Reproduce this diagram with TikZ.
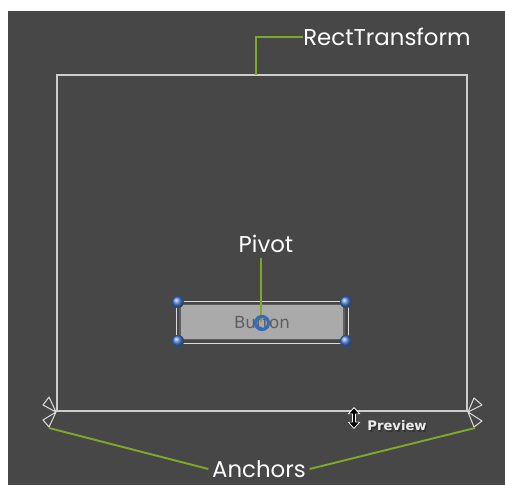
\documentclass[tikz,border=0pt]{standalone}
\usepackage{fontspec}
\usetikzlibrary{arrows.meta}
\newfontfamily\labelfont{Poppins}
\newfontfamily\uifont{DejaVu Sans}
\definecolor{bgdark}{RGB}{71,71,71}
\definecolor{rectline}{RGB}{205,205,205}
\definecolor{callout}{RGB}{128,168,40}
\definecolor{btnfill}{RGB}{170,170,170}
\definecolor{btnedge}{RGB}{95,95,95}
\definecolor{btntext}{RGB}{95,95,95}
\definecolor{handle}{RGB}{80,135,215}
\definecolor{handleedge}{RGB}{40,75,135}
\definecolor{pivring}{RGB}{55,105,190}
\begin{document}
\begin{tikzpicture}[x=0.02cm,y=-0.02cm,
  lbl/.style={text=white,font=\labelfont\fontsize{13}{13}\selectfont,inner sep=0pt},
  green line/.style={draw=callout,line width=1.1pt},
  dot/.style={circle,inner sep=0pt,minimum size=6.5pt,ball color=handle,draw=handleedge,line width=0.4pt},
  anchortri/.style={draw=rectline!80,line width=0.6pt,line join=round}]
\useasboundingbox (0,0) rectangle (505,485);
\fill[white] (0,0) rectangle (505,485);
\fill[bgdark] (8,11) rectangle (505,485);
% main rect
\draw[rectline,line width=0.9pt] (57,75) rectangle (467,411);
\coordinate (rtTop) at (256,75);
\coordinate (rtBend) at (256,37);
\node[lbl,anchor=west] (rt) at (303,37) {RectTransform};
\draw[green line] (rtTop) -- (rtBend) -- (rt.west);
% button
\draw[rectline!70,line width=0.5pt] (176,301) rectangle (348,343);
\node[draw=btnedge,fill=btnfill,line width=1pt,inner sep=0pt,
  minimum width=93pt,minimum height=20pt] (btn) at (262,322) {};
\node[text=btntext,font=\uifont\fontsize{9.5}{9.5}\selectfont] (btntxt) at (262,323) {Button};
\node[lbl,anchor=south] (pivot) at (266,253) {Pivot};
\coordinate (pivTop) at (261,258);
\coordinate (pivot point) at (261,322);
\draw[green line] (pivTop) -- (pivot point);
\draw[pivring,line width=1.8pt] (262,323) circle (3.7pt);
\node[dot] (h1) at (178,302) {};
\node[dot] (h2) at (346,302) {};
\node[dot] (h3) at (178,341) {};
\node[dot] (h4) at (346,341) {};
% anchors
\coordinate (cl) at (56,412);
\coordinate (cr) at (468,412);
\draw[anchortri] (cl) -- (43,405) -- (49,397) -- cycle;
\draw[anchortri] (cl) -- (43,420) -- (49,427) -- cycle;
\draw[anchortri] (cr) -- (482,405) -- (474,398) -- cycle;
\draw[anchortri] (cr) -- (482,421) -- (474,427) -- cycle;
\coordinate (al) at (49,428);
\coordinate (ar) at (475,428);
\node[lbl] (anch) at (259,469) {Anchors};
\draw[green line] (al) -- ([xshift=-2pt]anch.west);
\draw[green line] (ar) -- ([xshift=2pt]anch.east);
% preview cursor
\coordinate (curTop) at (354,407);
\coordinate (curBot) at (354,429);
\draw[white,line width=2.6pt,{Triangle[width=7pt,length=4pt]}-{Triangle[width=7pt,length=4pt]}] (curTop) -- (curBot);
\draw[black,line width=1.2pt,{Triangle[width=5pt,length=3pt]}-{Triangle[width=5pt,length=3pt]}] ([yshift=-0.8pt]curTop) -- ([yshift=0.8pt]curBot);
\node[text=black!80,font=\uifont\bfseries\fontsize{7.5}{7.5}\selectfont,inner sep=0pt] at (398.5,428) {Preview};
\node[text=white!92!black,font=\uifont\bfseries\fontsize{7.5}{7.5}\selectfont,inner sep=0pt] (prev) at (397,426) {Preview};
\end{tikzpicture}
\end{document}
